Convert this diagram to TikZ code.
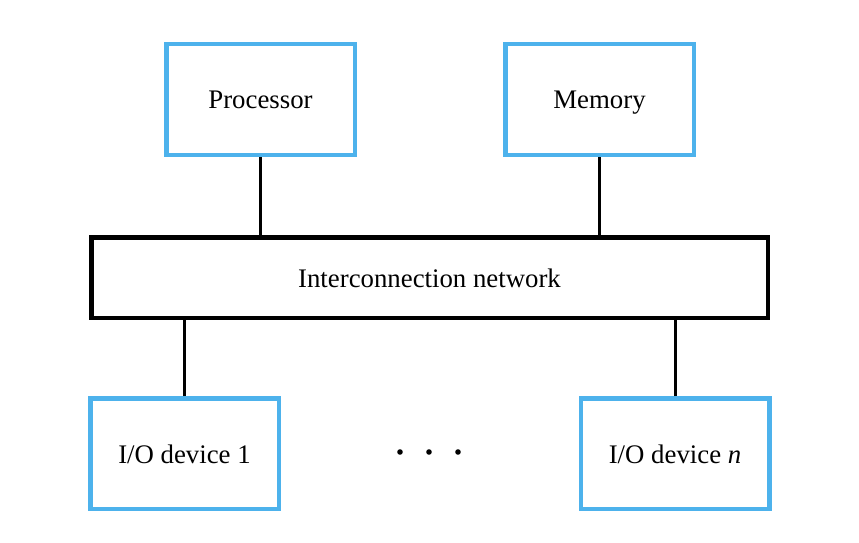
\documentclass[tikz,border=0pt]{standalone}
\usepackage{fontspec}
\setmainfont{Liberation Serif}
\usepackage{xcolor}
\definecolor{unitblue}{RGB}{77,178,236}
\tikzset{
	unit/.style={draw=unitblue, line width=4.5pt, minimum width=188.5pt, minimum height=110.5pt, inner sep=0pt, text height=19pt, text depth=0pt, font=\fontsize{26.8}{32}\selectfont},
	network/.style={draw=black, line width=4.5pt, minimum width=676.5pt, minimum height=80.5pt, inner sep=0pt, text height=19pt, text depth=0pt, font=\fontsize{26.8}{32}\selectfont},
	link/.style={draw=black, line width=3pt}
}

\begin{document}
\begin{tikzpicture}[x=1pt, y=1pt]
			\useasboundingbox (0, 0) rectangle (859, 542);

			\node[unit]		(proc)	at (260.5, 442.5) {Processor};
			\node[unit]		(mem)	at (599.5, 442.5) {Memory};
			\node[network]	(net)	at (429.5, 264.5) {Interconnection network};
			\node[unit]		(iofirst)	at (184.5, 88.5) {I/O device 1};
			\node[unit]		(iolast)	at (675, 88.5) {I/O device \textit{n}};

			\draw[link]	(proc) -- (proc |- net.north);
			\draw[link]	(mem) -- (mem |- net.north);
			\draw[link]	(iofirst) -- (iofirst |- net.south);
			\draw[link]	(iolast) -- (iolast |- net.south);

			\foreach \x in {400, 429, 458}
				\fill[black] (\x, 90) circle (2.8pt);
		\end{tikzpicture}
\end{document}
